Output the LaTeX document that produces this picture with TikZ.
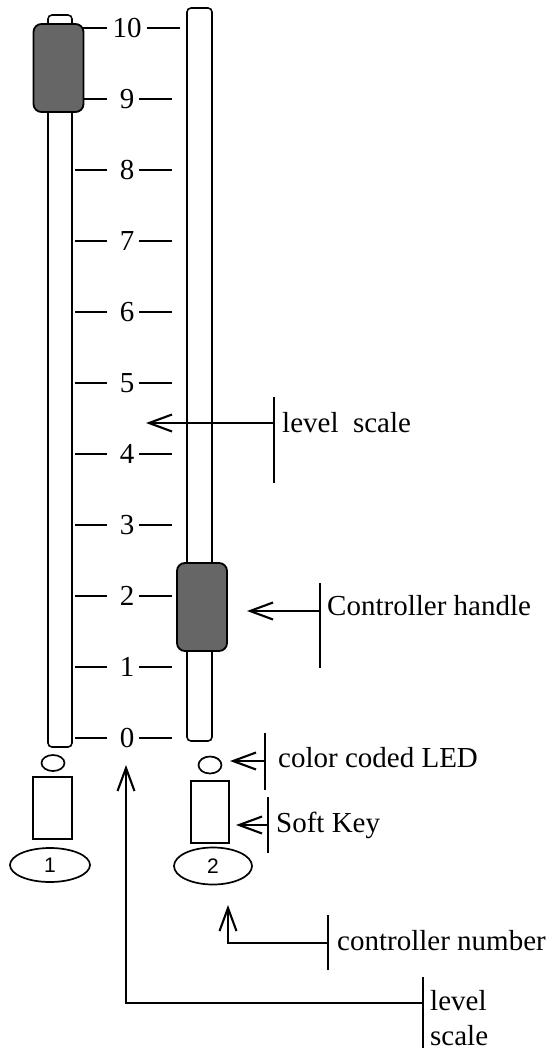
\documentclass[tikz,border=0pt]{standalone}
\usepackage{fontspec}
\setmainfont{Liberation Serif}
\newfontfamily\numfont{Liberation Sans}
\usetikzlibrary{arrows.meta,shapes.geometric}

\begin{document}
\begin{tikzpicture}[
  x=1pt,y=-1pt,
  font=\fontsize{29}{35}\selectfont,
  track/.style={rectangle,draw,line width=1.6pt,fill=white,rounded corners=4pt,
                inner sep=0pt},
  knob/.style={rectangle,draw,line width=1.8pt,fill=black!60,rounded corners=8pt,
               minimum width=50pt,minimum height=88pt,inner sep=0pt},
  led/.style={ellipse,draw,line width=1.7pt,minimum width=23pt,minimum height=17pt,
              inner sep=0pt},
  softkey/.style={rectangle,draw,line width=1.7pt,minimum width=38pt,
                  minimum height=62pt,inner sep=0pt},
  number/.style={ellipse,draw,line width=1.7pt,minimum width=79pt,minimum height=35pt,
                 inner sep=0pt,font=\numfont\fontsize{21}{21}\selectfont},
  tick/.style={line width=1.1pt},
  bar/.style={line width=2.4pt},
  arr/.style={line width=2.1pt,-{Straight Barb[length=23pt,width=17pt,line width=2.1pt]}},
  note/.style={anchor=base west,inner sep=0pt,align=left}
]
  \useasboundingbox (0,0) rectangle (550,1050);

  % tracks
  \node[track,minimum width=24pt,minimum height=732pt] (trackA) at (60,381) {};
  \node[track,minimum width=25pt,minimum height=733pt] (trackB) at (199.5,374.5) {};

  % scale
  \foreach \v in {0,...,10}{
    \node[inner sep=0pt] (lbl\v) at (127,738-71*\v) {\v};
    \draw[tick] (lbl\v.center) ++(-52,0) -- ++(32,0);
    \draw[tick] ([xshift=5pt]lbl\v.east) -- ++(33,0);
  }

  % handles
  \node[knob] (knobA) at (58.5,68) {};
  \node[knob] (knobB) at (202,607) {};

  % LEDs, soft keys, numbers
  \node[led,minimum height=16pt] (ledA) at (53,763) {};
  \node[led] (ledB) at (210,765) {};
  \node[softkey,minimum width=39pt] (keyA) at (52.5,808) {};
  \node[softkey] (keyB) at (210,812) {};
  \node[number,minimum width=80pt,minimum height=34pt] (numA) at (50,865) {1};
  \node[number,minimum width=78pt,minimum height=37pt] (numB) at (213,866) {2};

  % callouts
  \coordinate (scaleTip) at (146,423);
  \coordinate (knobTip) at (247,611);
  \coordinate (ledTip) at (230,761);
  \coordinate (keyTip) at (236,825);
  \coordinate (numTip) at (228,905);
  \coordinate (zeroTip) at (126,765);

  \draw[bar] (274,397) coordinate (barA) -- (274,483);
  \draw[arr] (barA |- scaleTip) -- (scaleTip);
  \node[note] (noteA) at (282,432) {level\ \ scale};

  \draw[bar] (320,583) coordinate (barB) -- (320,668);
  \draw[arr] (barB |- knobTip) -- (knobTip);
  \node[note] (noteB) at (327,615) {Controller handle};

  \draw[bar] (265,733) coordinate (barC) -- (265,790);
  \draw[arr] (barC |- ledTip) -- (ledTip);
  \node[note] (noteC) at (278,767) {color coded LED};

  \draw[bar] (268,797) coordinate (barD) -- (268,853);
  \draw[arr] (barD |- keyTip) -- (keyTip);
  \node[note] (noteD) at (276,832) {Soft Key};

  \draw[bar] (328,915) coordinate (barE) -- (328,970);
  \draw[arr] (328,943) -| (numTip);
  \node[note] (noteE) at (337,950) {controller number};

  \draw[bar] (423,977) coordinate (barF) -- (423,1048);
  \draw[arr] (423,1003) -| (zeroTip);
  \node[note] (noteF) at (430,1045) {level\\scale};
\end{tikzpicture}
\end{document}
